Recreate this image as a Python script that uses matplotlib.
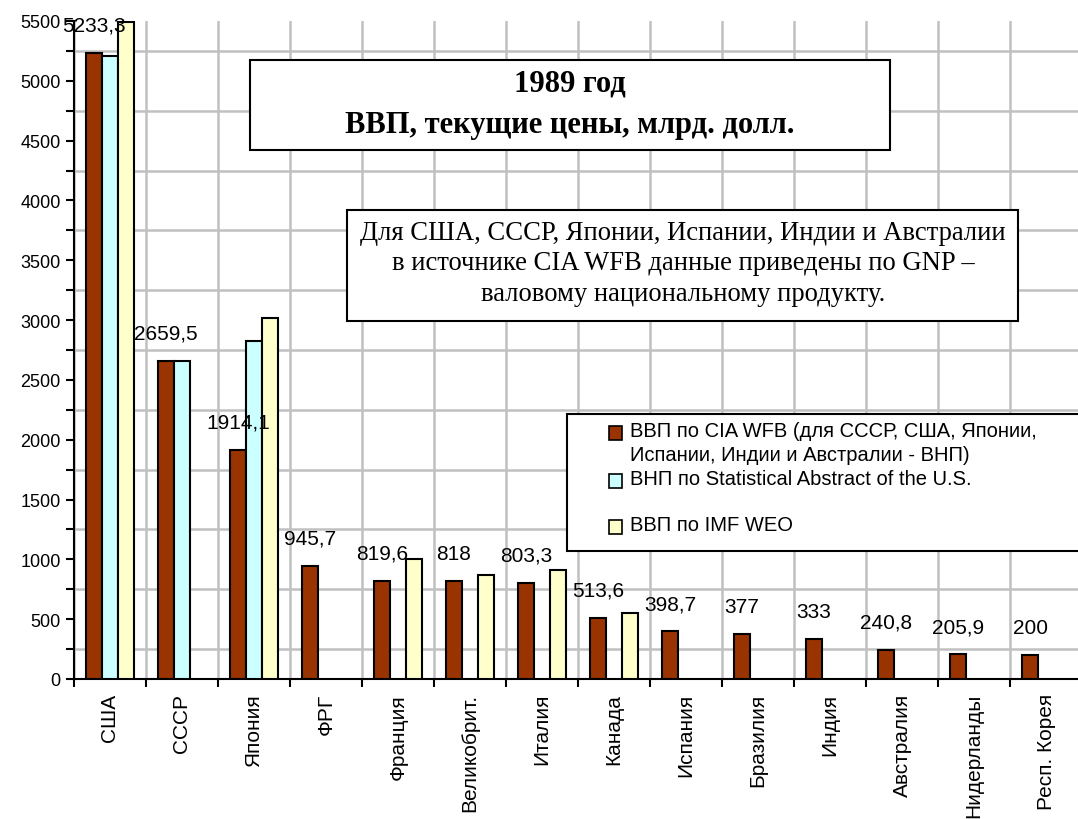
import numpy as np
import matplotlib.pyplot as plt
from matplotlib.patches import Rectangle

plt.rcParams['font.family'] = ['Liberation Sans', 'DejaVu Sans']

countries = ['США', 'СССР', 'Япония', 'ФРГ', 'Франция', 'Великобрит.', 'Италия',
             'Канада', 'Испания', 'Бразилия', 'Индия', 'Австралия', 'Нидерланды',
             'Респ. Корея']
cia_wfb = [5233.3, 2659.5, 1914.1, 945.7, 819.6, 818, 803.3, 513.6, 398.7,
           377, 333, 240.8, 205.9, 200]
stat_abs = [5205, 2659.5, 2825, None, None, None, None, None, None, None, None,
            None, None, None]
imf_weo = [5490, None, 3015, None, 1005, 868, 910, 555, None, None, None,
           None, None, None]

legend_labels = ['ВВП по CIA WFB (для СССР, США, Японии,\nИспании, Индии и Австралии - ВНП)',
                 'ВНП по Statistical Abstract of the U.S.',
                 'ВВП по IMF WEO']
colors = ['#993300', '#CCFFFF', '#FFFFCC']

fig = plt.figure(figsize=(10.78, 8.2), dpi=100)
ax = fig.add_axes([74 / 1078, 1 - 680 / 820, 1008 / 1078, 658 / 820])

x = np.arange(len(countries))
w = 0.222
for k, series in enumerate([cia_wfb, stat_abs, imf_weo]):
    xs = [x[i] + (k - 1) * w for i in range(len(series)) if series[i] is not None]
    hs = [v for v in series if v is not None]
    ax.bar(xs, hs, width=w, color=colors[k], edgecolor='black', linewidth=1.5, zorder=3)

for i, v in enumerate(cia_wfb):
    lab = ('%g' % v).replace('.', ',')
    ax.annotate(lab, (x[i] - w, v), xytext=(0, 20), textcoords='offset points',
                ha='center', va='center', fontsize=15, zorder=5)

ax.set_xlim(-0.5, len(countries) - 0.5)
ax.set_ylim(0, 5500)
ax.set_yticks(np.arange(0, 5501, 500))
ax.set_yticks(np.arange(0, 5501, 250), minor=True)
ax.set_xticks(x)
ax.set_xticklabels(countries, rotation=90, fontsize=15)
ax.set_xticks(np.arange(-0.5, len(countries), 1), minor=True)
ax.tick_params(axis='x', which='major', length=0, pad=10)
ax.tick_params(axis='x', which='minor', length=6, width=1.5, direction='out')
ax.tick_params(axis='y', which='both', length=6, width=1.5, direction='out', labelsize=13)
ax.grid(True, which='minor', color='#C0C0C0', linewidth=1.8, zorder=0)
ax.set_axisbelow(True)
for s in ['top', 'right']:
    ax.spines[s].set_visible(False)
ax.spines['left'].set_linewidth(1.5)
ax.spines['bottom'].set_linewidth(1.5)

# title box
fig.patches.append(Rectangle((250 / 1078, 1 - 151 / 820), 640 / 1078, 90 / 820,
                             transform=fig.transFigure, facecolor='white',
                             edgecolor='black', linewidth=1.5, zorder=6))
fig.text(570 / 1078, 1 - 84 / 820, '1989 год', ha='center', va='center',
         family='Liberation Serif', fontweight='bold', fontsize=22, zorder=7)
fig.text(570 / 1078, 1 - 125 / 820, 'ВВП, текущие цены, млрд. долл.', ha='center',
         va='center', family='Liberation Serif', fontweight='bold', fontsize=22, zorder=7)

# note box
fig.patches.append(Rectangle((347 / 1078, 1 - 322 / 820), 671 / 1078, 111 / 820,
                             transform=fig.transFigure, facecolor='white',
                             edgecolor='black', linewidth=1.5, zorder=6))
fig.text(683 / 1078, 1 - 264 / 820,
         'Для США, СССР, Японии, Испании, Индии и Австралии\n'
         'в источнике CIA WFB данные приведены по GNP –\n'
         'валовому национальному продукту.',
         ha='center', va='center', family='Liberation Serif', fontsize=19.2,
         linespacing=1.3, zorder=7)

# legend
fig.patches.append(Rectangle((567 / 1078, 1 - 552 / 820), 520 / 1078, 137 / 820,
                             transform=fig.transFigure, facecolor='white',
                             edgecolor='black', linewidth=1.5, zorder=6))
leg_y = [434, 482, 528]
for k in range(3):
    fig.patches.append(Rectangle((609 / 1078, 1 - (leg_y[k] + 7) / 820), 13 / 1078, 14 / 820,
                                 transform=fig.transFigure, facecolor=colors[k],
                                 edgecolor='black', linewidth=1.2, zorder=7))
    fig.text(630 / 1078, 1 - (leg_y[k] - 12) / 820, legend_labels[k], ha='left', va='top',
             fontsize=14.5, linespacing=1.35, zorder=7)

fig.savefig('out.png', dpi=100)
